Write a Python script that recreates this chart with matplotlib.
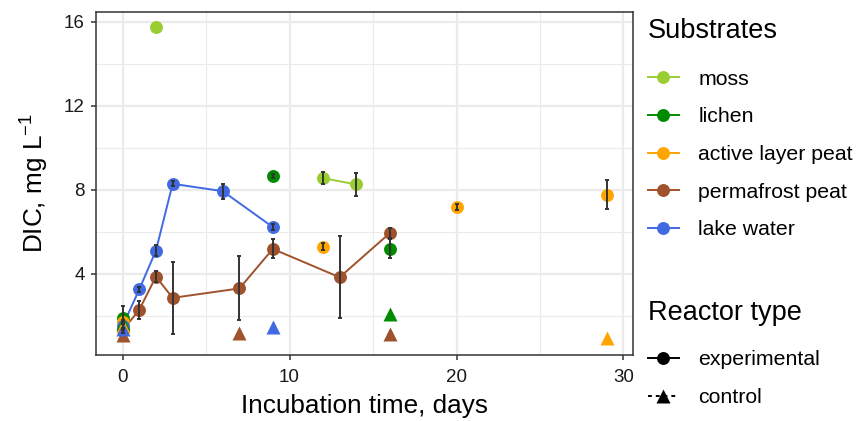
import matplotlib
matplotlib.use("Agg")
import matplotlib.pyplot as plt
from matplotlib.lines import Line2D
from matplotlib.ticker import MultipleLocator

plt.rcParams['font.family'] = ['Liberation Sans', 'DejaVu Sans']
plt.rcParams['mathtext.fontset'] = 'custom'
plt.rcParams['mathtext.rm'] = 'Liberation Sans'
plt.rcParams['mathtext.default'] = 'regular'

SUBSTRATES = ['moss', 'lichen', 'active layer peat', 'permafrost peat', 'lake water']
COLORS = ['#9ACD32', '#008B00', '#FFA500', '#A0522D', '#4169E1']

# experimental reactors: day, mean DIC, sd, run id (same id -> joined by a line)
moss_days = [2, 12, 14]
moss_dic = [15.75, 8.55, 8.25]
moss_sd = [0, 0.27, 0.53]
moss_run = [0, 1, 1]

lichen_days = [0, 9, 16]
lichen_dic = [1.9, 8.65, 5.2]
lichen_sd = [0.55, 0.08, 0.45]
lichen_run = [0, 1, 2]

active_days = [0, 12, 20, 29]
active_dic = [1.7, 5.28, 7.17, 7.76]
active_sd = [0.1, 0.17, 0.15, 0.7]
active_run = [0, 1, 2, 3]

perma_days = [0, 1, 2, 3, 7, 9, 13, 16]
perma_dic = [1.3, 2.28, 3.86, 2.85, 3.3, 5.18, 3.83, 5.93]
perma_sd = [0.1, 0.43, 0.25, 1.72, 1.52, 0.45, 1.95, 0.25]
perma_run = [0, 0, 0, 0, 0, 0, 0, 0]

lake_days = [0, 1, 2, 3, 6, 9]
lake_dic = [1.5, 3.25, 5.1, 8.28, 7.93, 6.22]
lake_sd = [0.2, 0.12, 0.25, 0.12, 0.35, 0.15]
lake_run = [0, 0, 0, 0, 0, 0]

# control reactors
ctrl_lichen_days = [0, 16]
ctrl_lichen_dic = [1.65, 2.08]
ctrl_active_days = [0, 29]
ctrl_active_dic = [1.5, 0.92]
ctrl_perma_days = [0, 7, 16]
ctrl_perma_dic = [1.1, 1.17, 1.14]
ctrl_lake_days = [0, 9]
ctrl_lake_dic = [1.35, 1.46]

experimental = [
    (moss_days, moss_dic, moss_sd, moss_run),
    (lichen_days, lichen_dic, lichen_sd, lichen_run),
    (active_days, active_dic, active_sd, active_run),
    (perma_days, perma_dic, perma_sd, perma_run),
    (lake_days, lake_dic, lake_sd, lake_run),
]
control = [
    ([], []),
    (ctrl_lichen_days, ctrl_lichen_dic),
    (ctrl_active_days, ctrl_active_dic),
    (ctrl_perma_days, ctrl_perma_dic),
    (ctrl_lake_days, ctrl_lake_dic),
]

fig = plt.figure(figsize=(8.59, 4.21), dpi=100)
ax = fig.add_axes([96 / 859, 1 - 355 / 421, (633 - 96) / 859, (355 - 12) / 421])

MS = 9.3
LW = 1.4
for (days, dic, sd, run), col in zip(experimental, COLORS):
    for r in sorted(set(run)):
        xs = [d for d, g in zip(days, run) if g == r]
        ys = [v for v, g in zip(dic, run) if g == r]
        if len(xs) > 1:
            ax.plot(xs, ys, color=col, lw=LW, zorder=2)
    ax.plot(days, dic, 'o', color=col, ms=MS, mec='none', zorder=3)
    # no error bar where sd is missing
    ex = [d for d, s in zip(days, sd) if s > 0]
    ey = [v for v, s in zip(dic, sd) if s > 0]
    es = [s for s in sd if s > 0]
    ax.errorbar(ex, ey, yerr=es, fmt='none', ecolor='#333333', elinewidth=1.4,
                capsize=1.6, capthick=1.4, zorder=5)

for (days, dic), col in zip(control, COLORS):
    if days:
        ax.plot(days, dic, '^', color=col, ms=MS + 0.5, mec='none', zorder=4)

ax.set_xlim(-1.59, 30.57)
ax.set_ylim(0.13, 16.46)
ax.xaxis.set_major_locator(MultipleLocator(10))
ax.xaxis.set_minor_locator(MultipleLocator(5))
ax.yaxis.set_major_locator(MultipleLocator(4))
ax.yaxis.set_minor_locator(MultipleLocator(2))
ax.set_yticks([4, 8, 12, 16])
ax.grid(which='major', color='#EBEBEB', lw=1.6, zorder=0)
ax.grid(which='minor', color='#EBEBEB', lw=0.8, zorder=0)
ax.set_axisbelow(True)
for s in ax.spines.values():
    s.set_color('#333333')
    s.set_linewidth(1.1)
ax.tick_params(which='major', length=3.6, width=1.1, color='#333333',
               labelsize=13.5, labelcolor='#1a1a1a', pad=4.5)
ax.tick_params(axis='x', which='major', pad=6.5)
ax.tick_params(which='minor', length=0)

ax.set_xlabel('Incubation time, days', fontsize=18.8, labelpad=5.5)
ax.set_ylabel('DIC, mg L$^{-1}$', fontsize=18.8, labelpad=9)

leg_kw = dict(loc='upper left', frameon=False, fontsize=15.3, title_fontsize=19.5,
              handlelength=1.45, handletextpad=0.92, labelspacing=0.88, borderpad=0,
              borderaxespad=0, alignment='left')

sub_handles = [Line2D([], [], color=c, marker='o', ms=MS, mec='none', lw=LW) for c in COLORS]
leg1 = fig.legend(sub_handles, SUBSTRATES, bbox_to_anchor=(648 / 859, 1 - 18 / 421),
                  title='Substrates', **leg_kw)
leg1._legend_box.sep = 18.5

type_handles = [Line2D([], [], color='black', marker='o', ms=MS, mec='none', lw=LW),
                Line2D([], [], color='black', marker='^', ms=MS + 0.5, mec='none', lw=LW,
                       ls=(0, (2, 2)))]
leg2 = fig.legend(type_handles, ['experimental', 'control'], bbox_to_anchor=(648 / 859, 1 - 300 / 421),
                  title='Reactor type', **leg_kw)
leg2._legend_box.sep = 17.5

fig.savefig('out.png', dpi=100)
